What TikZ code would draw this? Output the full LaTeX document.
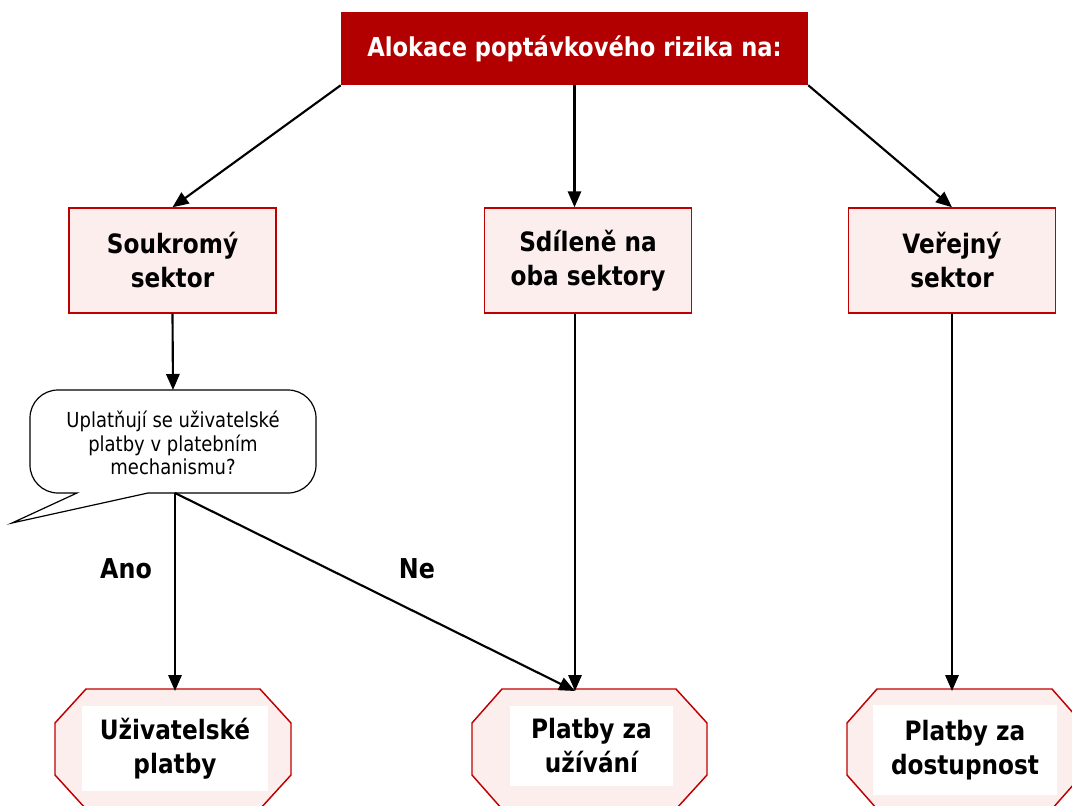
\documentclass[tikz,border=0pt]{standalone}
\usepackage{fontspec}
\setmainfont{DejaVu Sans}[FakeStretch=0.87]
\usetikzlibrary{arrows.meta,calc}
\definecolor{dred}{RGB}{178,0,0}
\definecolor{bred}{RGB}{192,0,0}
\definecolor{pinkf}{RGB}{253,238,238}
\begin{document}
\begin{tikzpicture}[x=0.75pt,y=-0.75pt,
  conn/.style={line width=1.6pt,-{Triangle[length=12pt,width=10pt]}},
  sbox/.style={draw=bred,line width=1.1pt,fill=pinkf,minimum width=155pt,minimum height=78.75pt,
    align=center,font=\fontsize{20}{25.5}\selectfont\bfseries,inner sep=0pt},
  octo/.style={draw=bred,line width=1.1pt,fill=pinkf},
  inner/.style={fill=white,align=center,font=\fontsize{20}{25.5}\selectfont\bfseries,inner sep=0pt},
  lab/.style={font=\fontsize{20.5}{24}\selectfont\bfseries}]
\useasboundingbox (0,0) rectangle (1072,806);
\begin{scope}
\clip (0,0) rectangle (1072,806);
% title
\node[fill=dred,minimum width=350.25pt,minimum height=54.75pt,inner sep=0pt,
  text=white,font=\fontsize{19.5}{23}\selectfont\bfseries] (top) at (574.5,48.5) {Alokace poptávkového rizika na:};
\node[sbox] (a) at (172.5,260.5) {Soukromý\\sektor};
\node[sbox] (b) at (588,260.5) {Sdíleně na\\oba sektory};
\node[sbox] (c) at (952,260.5) {Veřejný\\sektor};
% octagons
\draw[octo] (86,689) -- (260,689) -- (291,723) -- (291,775) -- (260,809) -- (86,809) -- (55,775) -- (55,723) -- cycle;
\draw[octo] (502,689) -- (676,689) -- (707,723) -- (707,775) -- (676,809) -- (502,809) -- (472,775) -- (472,723) -- cycle;
\draw[octo] (877,689) -- (1052,689) -- (1082,723) -- (1082,775) -- (1052,809) -- (877,809) -- (847,775) -- (847,723) -- cycle;
\node[inner,minimum width=139.5pt,minimum height=63.75pt] (u1) at (175,748.5) {Uživatelské\\platby};
\node[inner,minimum width=122.25pt,minimum height=60pt] (u2) at (591.5,746) {Platby za\\užívání};
\node[inner,minimum width=138pt,minimum height=67.5pt] (u3) at (965,750) {Platby za\\dostupnost};
\coordinate (o1) at (175,691);
\coordinate (o2) at (575,691);
\coordinate (o3) at (952,691);
% callout
\draw[line width=0.9pt,fill=white] (148,493) -- (288,493) .. controls (303.5,493) and (316,480.5) .. (316,465) -- (316,418)
  .. controls (316,402.5) and (303.5,390) .. (288,390) -- (58,390) .. controls (42.5,390) and (30,402.5) .. (30,418) -- (30,465)
  .. controls (30,480.5) and (42.5,493) .. (58,493) -- (77,493) -- (12,523) -- cycle;
\node[align=center,font=\fontsize{15.5}{17.5}\selectfont,inner sep=0pt] (q) at (173,443)
  {Uplatňují se uživatelské\\platby v platebním\\mechanismu?};
\coordinate (qt) at (173,390);
\coordinate (qb) at (175,493);
% connectors
\draw[conn] (top.south west) -- (a.north);
\draw[conn] (top.south) -- (b.north -| top.south);
\draw[conn] (top.south east) -- (c.north);
\draw[conn] (a.south) -- (qt);
\draw[conn] (qb) -- (o1);
\draw[conn] (qb) -- (o2);
\draw[conn] (b.south -| o2) -- (o2);
\draw[conn] (c.south -| o3) -- (o3);
\node[lab] (ano) at (126,569) {Ano};
\node[lab] (ne) at (417,569) {Ne};
\end{scope}
\end{tikzpicture}
\end{document}
